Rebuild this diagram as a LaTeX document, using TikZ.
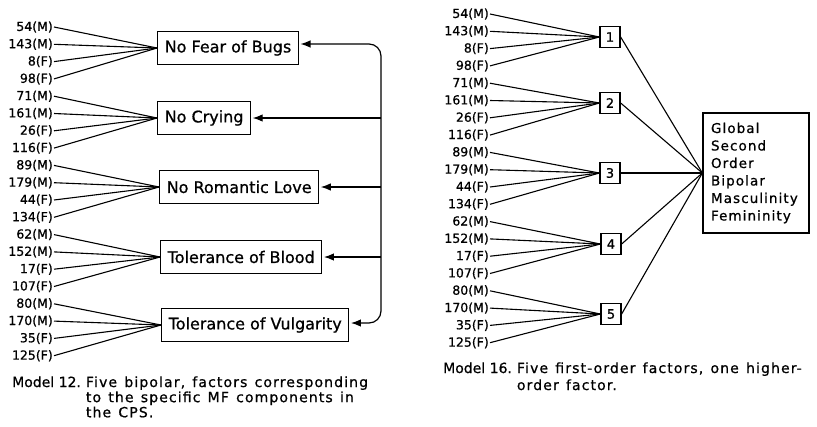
\documentclass[tikz,border=0pt]{standalone}
\usepackage{fontspec}
\setmainfont{DejaVu Sans}[FakeBold=0.8]
\newfontfamily\spfont{DejaVu Sans}[LetterSpace=8,WordSpace=1.3,FakeBold=0.8]
\usetikzlibrary{arrows.meta}
\begin{document}
\begin{tikzpicture}[x=1pt,y=-1pt,
  lab/.style={anchor=east,inner sep=1pt,font=\fontsize{12.5}{14}\selectfont},
  fbox/.style={draw,line width=1.4pt,anchor=west,minimum height=33pt,inner xsep=7pt,font=\fontsize{16}{18}\selectfont},
  nbox/.style={draw,line width=1.3pt,minimum width=20pt,minimum height=21pt,inner sep=0pt,font=\fontsize{13}{15}\selectfont},
  ln/.style={line width=1.1pt},
  tip/.tip={Latex[length=10pt,width=7.5pt]},
  arr/.style={line width=1.2pt,-tip,shorten >=1.5pt},
  captext/.style={anchor=base west,inner sep=0pt},
]
\useasboundingbox (0,0) rectangle (817,426);
% ---- Model 12 ----
\node[fbox] (A1) at (157,48) {No Fear of Bugs};
\node[fbox] (A2) at (157,118) {No Crying};
\node[fbox] (A3) at (159,187) {No Romantic Love};
\node[fbox] (A4) at (160,257) {Tolerance of Blood};
\node[fbox] (A5) at (161,325) {Tolerance of Vulgarity};
\foreach \t [count=\i from 0] in {54(M),143(M),8(F),98(F),71(M),161(M),26(F),116(F),89(M),179(M),44(F),134(F),62(M),152(M),17(F),107(F),80(M),170(M),35(F),125(F)} {
  \pgfmathtruncatemacro\g{floor(\i/4)+1}
  \node[lab] (L\i) at (54,27+17.3*\i) {\t};
  \draw[ln] (L\i.east) -- (A\g.west);
}
\coordinate (rail) at (381,187);
\draw[line width=1.2pt,tip-tip,shorten <=1.5pt,shorten >=1.5pt,rounded corners=12pt] ([yshift=4pt]A1.east) -| (rail) |- ([yshift=2pt]A5.east);
\foreach \k in {2,3,4} \draw[arr] (rail |- A\k.east) -- (A\k.east);
\node[captext] (C1) at (12,387) {\fontsize{14}{15}\selectfont\begin{tabular}[t]{@{}l@{\hspace{5pt}}l@{}}Model 12. & \spfont Five bipolar, factors corresponding\\ & \spfont to the specific MF components in\\ & \spfont the CPS.\end{tabular}};
% ---- Model 16 ----
\node[nbox] (B1) at (610,37) {1};
\node[nbox] (B2) at (610,103) {2};
\node[nbox] (B3) at (610,173) {3};
\node[nbox] (B4) at (611,244) {4};
\node[nbox] (B5) at (611,314) {5};
\node[draw,line width=1.3pt,minimum width=106pt,minimum height=120pt,inner xsep=8pt,text width=90pt,align=left,font=\spfont\fontsize{13.5}{17.5}\selectfont] (G) at (756,173) {Global\\Second\\Order\\Bipolar\\Masculinity\\Femininity};
\foreach \t [count=\i from 0] in {54(M),143(M),8(F),98(F),71(M),161(M),26(F),116(F),89(M),179(M),44(F),134(F),62(M),152(M),17(F),107(F),80(M),170(M),35(F),125(F)} {
  \pgfmathtruncatemacro\g{floor(\i/4)+1}
  \node[lab] (R\i) at (490,14+17.3*\i) {\t};
  \draw[ln] (R\i.east) -- (B\g.west);
}
\foreach \k in {1,...,5} \draw[ln] (B\k.east) -- (G.west);
\node[captext] (C2) at (443,373) {\fontsize{14}{17}\selectfont\begin{tabular}[t]{@{}l@{\hspace{5pt}}l@{}}Model 16. & \spfont Five first-order factors, one higher-\\ & \spfont order factor.\end{tabular}};
\end{tikzpicture}
\end{document}
